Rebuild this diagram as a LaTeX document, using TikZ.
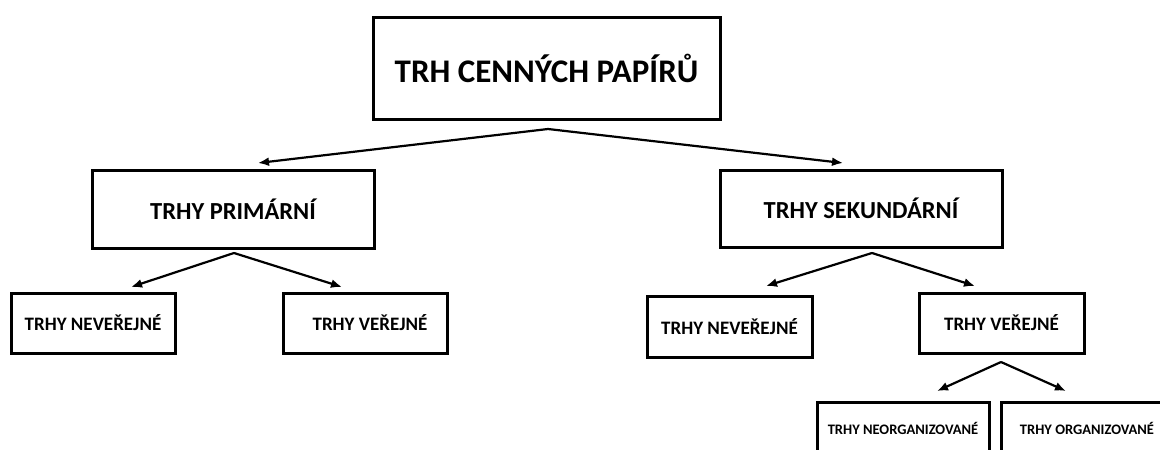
\documentclass[tikz,border=0pt]{standalone}
\usepackage{fontspec}
\setmainfont{Carlito}
\usetikzlibrary{arrows.meta}
\begin{document}
\begin{tikzpicture}[x=1pt,y=-1pt,
  box/.style={draw=black,line width=3pt,fill=white,inner sep=0pt,font=\bfseries},
  big/.style={font=\bfseries\fontsize{24.5}{29}\selectfont},
  small/.style={font=\bfseries\fontsize{19}{22}\selectfont},
  tiny/.style={font=\bfseries\fontsize{14.5}{17}\selectfont},
  arr/.style={line width=2.2pt,-{Latex[length=11pt,width=9pt]}}]
\useasboundingbox (0,0) rectangle (1160,450);
\clip (0,0) rectangle (1160,450);
\fill[white] (0,0) rectangle (1160,450);
% boxes
\node[box,minimum width=347pt,minimum height=102pt,font=\bfseries\fontsize{33}{40}\selectfont] (top) at (546.5,68) {TRH CENNÝCH PAPÍRŮ};
\node[box,big,minimum width=282pt,minimum height=78pt] (prim) at (233,209) {TRHY PRIMÁRNÍ};
\node[box,big,minimum width=282pt,minimum height=77pt] (sek) at (861,208.5) {TRHY SEKUNDÁRNÍ};
\node[box,small,minimum width=164pt,minimum height=60pt] (nl) at (93,323) {TRHY NEVEŘEJNÉ};
\node[box,small,minimum width=164pt,minimum height=60pt] (vl) at (365,323) {\hspace{10pt}TRHY VEŘEJNÉ};
\node[box,small,minimum width=165pt,minimum height=61pt] (nr) at (729.5,326.5) {TRHY NEVEŘEJNÉ};
\node[box,small,minimum width=165pt,minimum height=60pt] (vr) at (1001.5,323) {TRHY VEŘEJNÉ\hspace{11pt}};
\node[box,tiny,minimum width=172pt,minimum height=52pt] (neo) at (903,428) {TRHY NEORGANIZOVANÉ};
\node[box,tiny,minimum width=172pt,minimum height=52pt] (org) at (1087,428) {TRHY ORGANIZOVANÉ};
% connector points
\coordinate (t0) at (548,129);
\coordinate (p0) at (234,253);
\coordinate (s0) at (872,253);
\coordinate (v0) at (1001,362);
\coordinate (t1) at (258,163);
\coordinate (t2) at (843,163);
\coordinate (p1) at (131,287);
\coordinate (p2) at (342,287);
\coordinate (s1) at (766,286);
\coordinate (s2) at (975,286);
\coordinate (v1) at (937,391);
\coordinate (v2) at (1066,391);
% connectors
\draw[arr] (t0) -- (t1);
\draw[arr] (t0) -- (t2);
\draw[arr] (p0) -- (p1);
\draw[arr] (p0) -- (p2);
\draw[arr] (s0) -- (s1);
\draw[arr] (s0) -- (s2);
\draw[arr] (v0) -- (v1);
\draw[arr] (v0) -- (v2);
\end{tikzpicture}
\end{document}
